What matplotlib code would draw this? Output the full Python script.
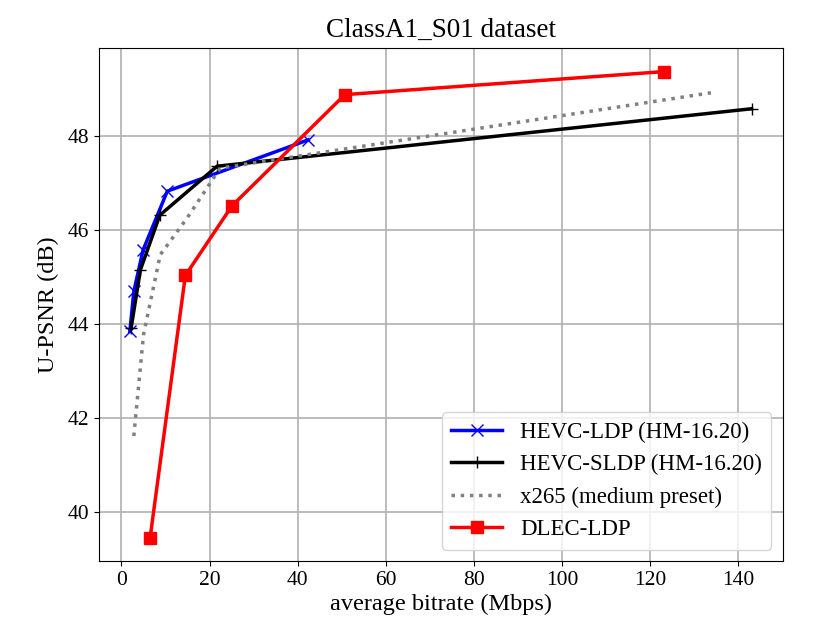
import matplotlib
matplotlib.use("Agg")
import matplotlib.pyplot as plt

plt.rcParams.update({
    "font.family": ["Liberation Serif", "DejaVu Serif"],
    "font.size": 15.5,
})

# HEVC-LDP (HM-16.20)
ldp_rate = [1.9, 2.8, 4.9, 10.4, 42.4]
ldp_psnr = [43.84, 44.69, 45.57, 46.82, 47.91]

# HEVC-SLDP (HM-16.20)
sldp_rate = [2.2, 4.3, 8.7, 21.7, 143.0]
sldp_psnr = [43.92, 45.15, 46.31, 47.35, 48.57]

# x265 (medium preset)
x265_rate = [2.8, 5.0, 8.8, 14.9, 20.2, 22.4, 133.8]
x265_psnr = [41.62, 43.77, 45.47, 46.25, 47.00, 47.31, 48.91]

# DLEC-LDP
dlec_rate = [6.5, 14.5, 25.1, 50.7, 123.2]
dlec_psnr = [39.46, 45.03, 46.51, 48.87, 49.36]

fig = plt.figure(figsize=(8.37, 6.35), dpi=100)
ax = fig.add_axes([0.118, 0.1165, 0.817, 0.8075])

ax.plot(ldp_rate, ldp_psnr, color="blue", marker="x", markersize=9,
        linewidth=2.5, label="HEVC-LDP (HM-16.20)")
ax.plot(sldp_rate, sldp_psnr, color="black", marker="+", markersize=9,
        linewidth=2.5, label="HEVC-SLDP (HM-16.20)")
ax.plot(x265_rate, x265_psnr, color="gray", linestyle=":", linewidth=2.5,
        label="x265 (medium preset)")
ax.plot(dlec_rate, dlec_psnr, color="red", marker="s", markersize=9,
        linewidth=2.5, label="DLEC-LDP")

ax.set_xticks([0, 20, 40, 60, 80, 100, 120, 140])
ax.set_yticks([40, 42, 44, 46, 48])
ax.grid(True, color="#b0b0b0", linewidth=1.2)
ax.set_xlabel("average bitrate (Mbps)", fontsize=17.5, labelpad=3)
ax.set_ylabel("U-PSNR (dB)", fontsize=17.5, labelpad=6)
ax.set_title("ClassA1_S01 dataset", fontsize=19.5, pad=8)
ax.legend(loc="lower right", fontsize=16.5, handlelength=2.2,
          borderaxespad=0.5)

fig.savefig("out.png", dpi=100)
